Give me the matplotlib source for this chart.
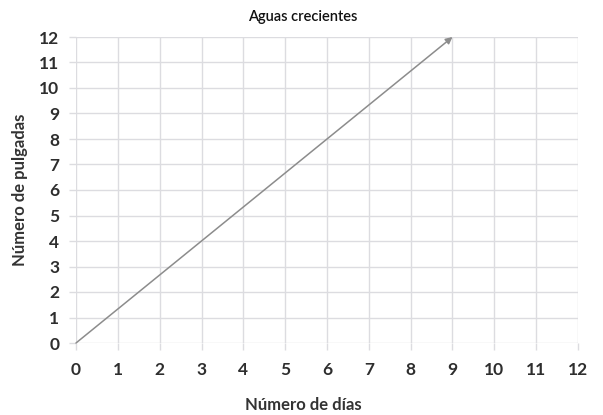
import matplotlib
matplotlib.use("Agg")
import matplotlib.pyplot as plt

days = [0, 9]
inches = [0, 12]
x_ticks = list(range(0, 13))
y_ticks = list(range(0, 13))
title = "Aguas crecientes"
xlabel = "Número de días"
ylabel = "Número de pulgadas"

plt.rcParams['font.family'] = ['Lato', 'DejaVu Sans']

fig = plt.figure(figsize=(6.03, 4.15), dpi=100)
ax = fig.add_axes([76/603, 1-343/415, (578-76)/603, (343-37)/415])

ax.set_xlim(0, 12)
ax.set_ylim(0, 12)
ax.set_xticks(x_ticks)
ax.set_yticks(y_ticks)
ax.grid(True, color='#dcdce0', linewidth=1.0)
ax.set_axisbelow(True)
for s in ax.spines.values():
    s.set_visible(False)
ax.tick_params(axis='both', length=5, color='#dcdce0', width=1.0,
               labelsize=12.5, labelcolor='#2e2e2e', pad=4)
for lab in ax.get_xticklabels() + ax.get_yticklabels():
    lab.set_fontweight('bold')
ax.tick_params(axis='x', pad=9)
ax.tick_params(axis='y', pad=7)

ax.annotate('', xy=(days[1], inches[1]), xytext=(days[0], inches[0]),
            arrowprops=dict(arrowstyle='-|>', color='#8c8c8c', lw=1.1,
                            mutation_scale=10, shrinkA=0, shrinkB=0),
            annotation_clip=False)

fig.text(303/603, 1-17/415, title, ha='center', va='center', fontsize=10.5,
         fontweight='semibold', color='#111111')
fig.text(303/603, 1-405/415, xlabel, ha='center', va='center', fontsize=12,
         fontweight='bold', color='#333333')
fig.text(20/603, 1-190/415, ylabel, ha='center', va='center', fontsize=12,
         fontweight='bold', color='#333333', rotation=90)

fig.savefig('out.png', dpi=100, facecolor='white')
